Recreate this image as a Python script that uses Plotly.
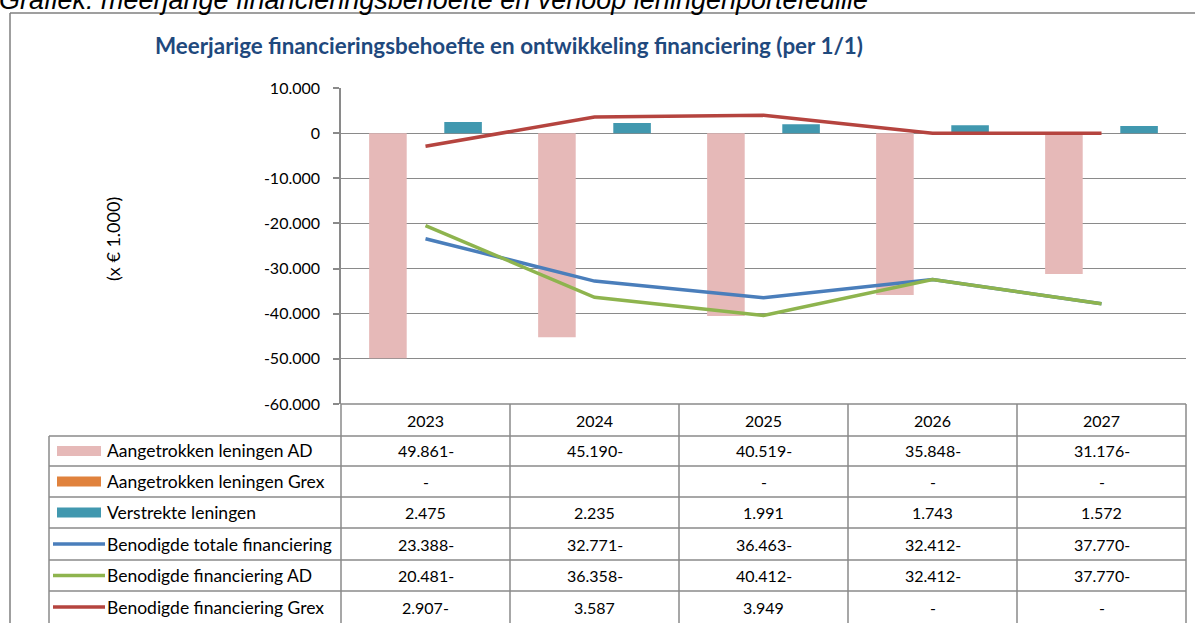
import plotly.graph_objects as go

# ---------------- data ----------------
years = ["2023", "2024", "2025", "2026", "2027"]
aangetrokken_ad = [-49861, -45190, -40519, -35848, -31176]
aangetrokken_grex = [0, None, 0, 0, 0]
verstrekte_leningen = [2475, 2235, 1991, 1743, 1572]
benodigd_totaal = [-23388, -32771, -36463, -32412, -37770]
benodigd_ad = [-20481, -36358, -40412, -32412, -37770]
benodigd_grex = [-2907, 3587, 3949, 0, 0]

series_names = [
    "Aangetrokken leningen AD",
    "Aangetrokken leningen Grex",
    "Verstrekte leningen",
    "Benodigde totale financiering",
    "Benodigde financiering AD",
    "Benodigde financiering Grex",
]
series_values = [aangetrokken_ad, aangetrokken_grex, verstrekte_leningen,
                 benodigd_totaal, benodigd_ad, benodigd_grex]
series_kinds = ["bar", "bar", "bar", "line", "line", "line"]
series_colors = ["#E6B9B8", "#E0823D", "#4198AF", "#4A7EBB", "#8EB44E", "#B5443F"]

y_tickvals = [10000, 0, -10000, -20000, -30000, -40000, -50000, -60000]
y_ticktext = ["10.000", "0", "-10.000", "-20.000", "-30.000", "-40.000", "-50.000", "-60.000"]

chart_title = "Meerjarige financieringsbehoefte en ontwikkeling financiering (per 1/1)"
caption = "Grafiek: meerjarige financieringsbehoefte en verloop leningenportefeuille"
y_title = "(x € 1.000)"

# ---------------- geometry (pixels) ----------------
W, H = 1195, 623
L, R, T, B = 341, 1186, 88, 404
row_edges = [404, 436, 466, 497, 528, 560, 591, 623]
leg_left = 49
FONT = "Lato"
GRID = "#8A8A8A"


def px(x):
    return (x - L) / (R - L)


def py(y):
    return (B - y) / (B - T)


def fmt(v):
    if v is None:
        return ""
    if v == 0:
        return "-"
    s = f"{abs(v):,}".replace(",", ".")
    return s + "-" if v < 0 else s


fig = go.Figure()
for name, vals, kind, col in zip(series_names, series_values, series_kinds, series_colors):
    if kind == "bar":
        fig.add_trace(go.Bar(x=years, y=vals, name=name, marker=dict(color=col, line=dict(width=0))))
    else:
        fig.add_trace(go.Scatter(x=years, y=vals, name=name, mode="lines",
                                 line=dict(color=col, width=3.5)))

shapes = []
annotations = []


def ann(x, y, text, size, xref="paper", xanchor="center", color="#000", family=FONT, **kw):
    annotations.append(dict(x=x, xref=xref, y=y, yref="paper", text=text, showarrow=False,
                            xanchor=xanchor, yanchor="middle",
                            font=dict(family=family, size=size, color=color), **kw))


# outer frame
shapes.append(dict(type="line", xref="paper", yref="paper", x0=px(10), x1=px(10),
                   y0=py(13), y1=py(640), line=dict(color="#7F7F7F", width=1.5)))
shapes.append(dict(type="line", xref="paper", yref="paper", x0=px(10), x1=px(1210),
                   y0=py(13), y1=py(13), line=dict(color="#7F7F7F", width=1.5)))

# table horizontal lines
for i, ye in enumerate(row_edges[:-1]):
    x0 = L if i == 0 else leg_left
    shapes.append(dict(type="line", xref="paper", yref="paper", x0=px(x0), x1=px(R),
                       y0=py(ye), y1=py(ye), line=dict(color=GRID, width=1.5)))
# table vertical lines
n = len(years)
for k in range(n + 1):
    xx = k / n
    shapes.append(dict(type="line", xref="paper", yref="paper", x0=xx, x1=xx,
                       y0=py(row_edges[0]), y1=py(row_edges[-1] + 5), line=dict(color=GRID, width=1.5)))
shapes.append(dict(type="line", xref="paper", yref="paper", x0=px(leg_left), x1=px(leg_left),
                   y0=py(row_edges[1]), y1=py(row_edges[-1] + 5), line=dict(color=GRID, width=1.5)))

# year header
for i, yr in enumerate(years):
    ann(i, py((row_edges[0] + row_edges[1]) / 2), yr, 16, xref="x")

# rows
for r, (name, vals, kind, col) in enumerate(zip(series_names, series_values, series_kinds, series_colors)):
    yc = (row_edges[r + 1] + row_edges[r + 2]) / 2
    if kind == "bar":
        shapes.append(dict(type="rect", xref="paper", yref="paper", x0=px(57), x1=px(101),
                           y0=py(yc - 5), y1=py(yc + 5), fillcolor=col, line=dict(width=0)))
    else:
        shapes.append(dict(type="line", xref="paper", yref="paper", x0=px(53), x1=px(105),
                           y0=py(yc), y1=py(yc), line=dict(color=col, width=3.5)))
    ann(px(105), py(yc), name, 17.5, xanchor="left")
    for i, v in enumerate(vals):
        ann(i, py(yc), fmt(v), 16, xref="x")

# titles
ann(px(509), py(46), "<b>" + chart_title + "</b>", 22.4, color="#1F497D")
ann(px(113), py(239), y_title, 18, textangle=-90)
ann(px(-3), py(-0.5), "<i>" + caption + "</i>", 27, xanchor="left", family="Liberation Sans")

fig.update_layout(
    width=W, height=H,
    margin=dict(l=L, r=W - R, t=T, b=H - B, pad=0),
    paper_bgcolor="white", plot_bgcolor="white",
    barmode="group", bargap=0.333, bargroupgap=0,
    showlegend=False,
    shapes=shapes, annotations=annotations,
    xaxis=dict(type="category", range=[-0.5, 4.5], showticklabels=False, showgrid=False,
               zeroline=False, showline=False, ticks=""),
    yaxis=dict(range=[-60000, 10000], tickvals=y_tickvals, ticktext=y_ticktext,
               showgrid=True, gridcolor=GRID, gridwidth=1, zeroline=False,
               showline=True, linecolor=GRID, linewidth=1.5,
               ticks="outside", ticklen=6, tickcolor=GRID, tickwidth=1.5,
               ticklabelstandoff=10,
               tickfont=dict(family=FONT, size=16, color="#000")),
)

fig.write_html("out.html", config={"displayModeBar": False},
               post_script="document.body.style.margin='0px';")
